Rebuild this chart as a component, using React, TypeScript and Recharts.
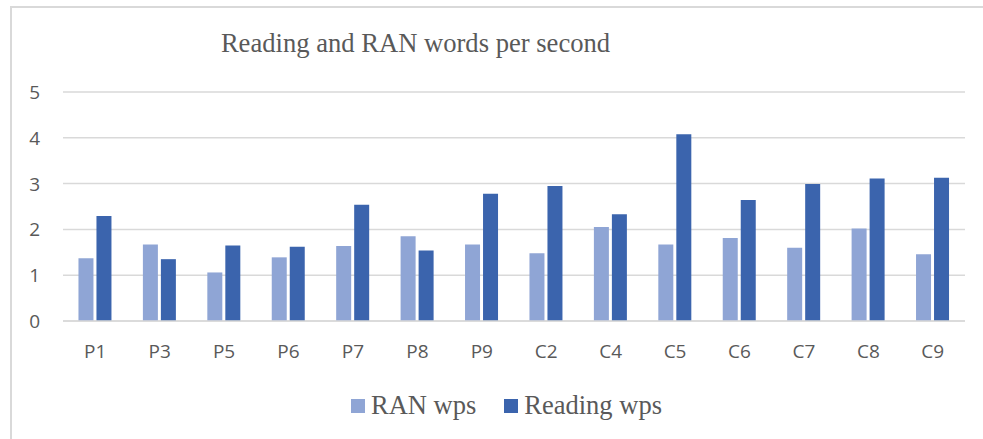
import React from 'react';
import { BarChart, Bar, XAxis, YAxis, CartesianGrid, Legend } from 'recharts';

const categories = ['P1', 'P3', 'P5', 'P6', 'P7', 'P8', 'P9', 'C2', 'C4', 'C5', 'C6', 'C7', 'C8', 'C9'];
const ranWps = [1.37, 1.67, 1.06, 1.39, 1.64, 1.85, 1.67, 1.48, 2.05, 1.67, 1.81, 1.6, 2.02, 1.46];
const readingWps = [2.29, 1.35, 1.65, 1.62, 2.54, 1.54, 2.78, 2.95, 2.33, 4.08, 2.64, 2.99, 3.11, 3.13];
const yTicks = [0, 1, 2, 3, 4, 5];

const data = categories.map((c, i) => ({ name: c, ran: ranWps[i], reading: readingWps[i] }));

const RAN_COLOR = '#8fa5d5';
const READING_COLOR = '#3b64ad';
const TEXT_COLOR = '#595959';
const GRID_COLOR = '#d9d9d9';
const TICK_FONT = '"Open Sans", sans-serif';

const XTick = (props: any) => {
  const { x, y, payload } = props;
  return (
    <text x={x} y={y + 14} textAnchor="middle" fill={TEXT_COLOR} fontSize={19} fontFamily={TICK_FONT}>
      {payload.value}
    </text>
  );
};

const YTick = (props: any) => {
  const { x, y, payload } = props;
  return (
    <text x={x} y={y + 7} textAnchor="end" fill={TEXT_COLOR} fontSize={19} fontFamily={TICK_FONT}>
      {payload.value}
    </text>
  );
};

const LegendContent = () => (
  <div
    style={{
      display: 'flex',
      justifyContent: 'center',
      alignItems: 'center',
      fontFamily: '"Liberation Serif", "Times New Roman", serif',
      fontSize: 26.5,
      color: TEXT_COLOR,
      paddingLeft: 30,
    }}
  >
    <span style={{ display: 'inline-flex', alignItems: 'center', marginRight: 28 }}>
      <span style={{ width: 14, height: 14, background: RAN_COLOR, marginRight: 6, display: 'inline-block' }} />
      RAN wps
    </span>
    <span style={{ display: 'inline-flex', alignItems: 'center' }}>
      <span style={{ width: 14, height: 14, background: READING_COLOR, marginRight: 6, display: 'inline-block' }} />
      Reading wps
    </span>
  </div>
);

export default function App() {
  return (
    <div style={{ position: 'absolute', left: 0, top: 0, width: 983, height: 439, background: '#fff', overflow: 'hidden' }}>
      <div
        style={{
          position: 'absolute',
          left: 10,
          top: 6,
          width: 980,
          height: 440,
          borderLeft: `2px solid ${GRID_COLOR}`,
          borderTop: `2px solid ${GRID_COLOR}`,
        }}
      />
      <div
        style={{
          position: 'absolute',
          left: 0,
          top: 28,
          width: 831,
          textAlign: 'center',
          fontFamily: '"Liberation Serif", "Times New Roman", serif',
          fontSize: 26.6,
          color: TEXT_COLOR,
          lineHeight: '30px',
          whiteSpace: 'nowrap',
        }}
      >
        Reading and RAN words per second
      </div>
      <BarChart
        width={983}
        height={439}
        data={data}
        margin={{ top: 92, right: 18, bottom: 88, left: 10 }}
        barCategoryGap="24%"
        barGap={3}
        style={{ position: 'absolute', left: 0, top: 0 }}
      >
        <CartesianGrid vertical={false} stroke={GRID_COLOR} strokeWidth={1.5} />
        <XAxis
          dataKey="name"
          axisLine={{ stroke: GRID_COLOR, strokeWidth: 1.5 }}
          tickLine={false}
          tickSize={6}
          tickMargin={17}
          tick={<XTick />}
          height={30}
        />
        <YAxis
          domain={[0, 5]}
          ticks={yTicks}
          axisLine={false}
          tickLine={false}
          tickSize={6}
          tickMargin={17}
          width={53}
          tick={<YTick />}
        />
        <Legend
          verticalAlign="middle"
          align="center"
          layout="horizontal"
          content={<LegendContent />}
          wrapperStyle={{ top: 390, left: 0, width: 983 }}
        />
        <Bar dataKey="ran" name="RAN wps" fill={RAN_COLOR} isAnimationActive={false} />
        <Bar dataKey="reading" name="Reading wps" fill={READING_COLOR} isAnimationActive={false} />
      </BarChart>
    </div>
  );
}
